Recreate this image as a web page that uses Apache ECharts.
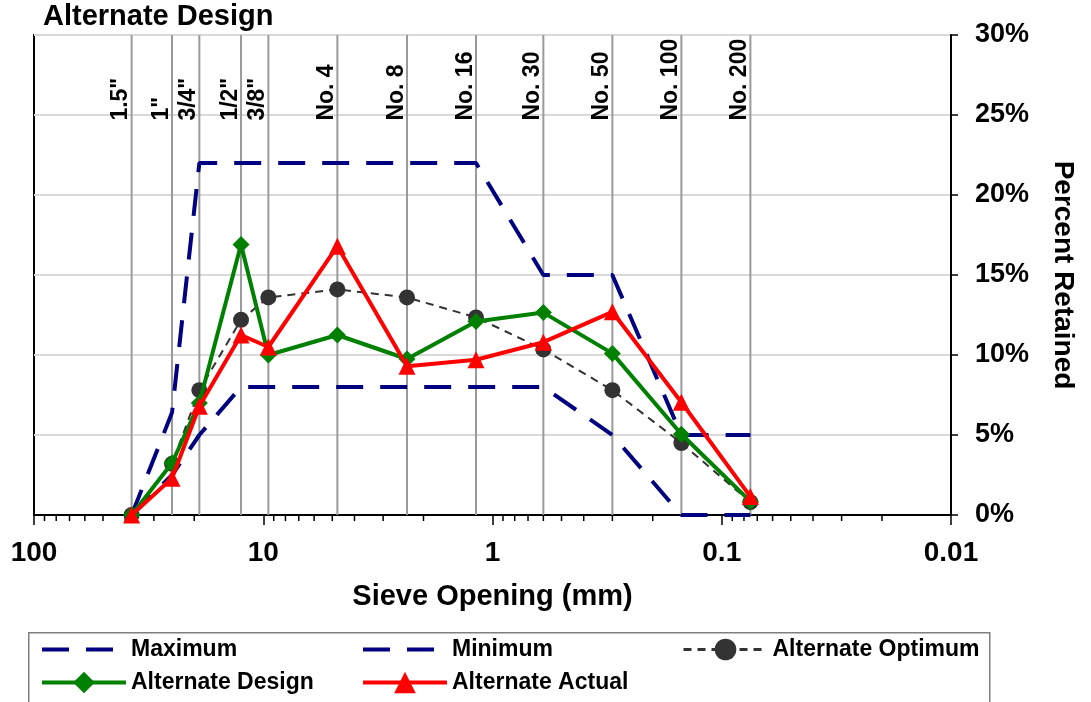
<!DOCTYPE html>
<html><head><meta charset="utf-8">
<script src="https://cdn.jsdelivr.net/npm/echarts@6/dist/echarts.min.js"></script>
<style>html,body{margin:0;padding:0;background:#fff}#c{width:1091px;height:702px}</style>
</head><body><div id="c"></div>
<script>
// Sieve openings (mm) and their names
const sieveSizes = [37.5, 25, 19, 12.5, 9.5, 4.75, 2.36, 1.18, 0.6, 0.3, 0.15, 0.075];
const sieveLabels = ['1.5"', '1"', '3/4"', '1/2"', '3/8"', 'No. 4', 'No. 8', 'No. 16', 'No. 30', 'No. 50', 'No. 100', 'No. 200'];
// Percent retained on each sieve
const maximum    = [0, 6.4, 22, 22, 22, 22, 22, 22, 15, 15, 5, 5];
const minimum    = [0, 2.5, 5, 8, 8, 8, 8, 8, 8, 5, 0, 0];
const altOptimum = [0, 3.2, 7.8, 12.2, 13.6, 14.1, 13.6, 12.35, 10.35, 7.8, 4.5, 0.8];
const altDesign  = [0, 3.25, 7.0, 16.9, 10.0, 11.25, 9.75, 12.1, 12.65, 10.1, 5.05, 0.85];
const altActual  = [0, 2.3, 6.8, 11.25, 10.5, 16.8, 9.3, 9.7, 10.8, 12.7, 7.05, 1.15];
// Axis ticks
const xMajorTicks = [100, 10, 1, 0.1, 0.01];
const xMinorTicks = [90, 80, 70, 60, 50, 40, 30, 20, 9, 8, 7, 6, 5, 4, 3, 2,
                     0.9, 0.8, 0.7, 0.6, 0.5, 0.4, 0.3, 0.2, 0.09, 0.08, 0.07, 0.06, 0.05, 0.04, 0.03, 0.02];
const yTicks = [0, 5, 10, 15, 20, 25, 30];

const FONT = '"Liberation Sans", Arial, Helvetica, sans-serif';
const pair = arr => sieveSizes.map((s, i) => [s, arr[i]]);

const chart = echarts.init(document.getElementById('c'), null, {renderer: 'canvas'});
const legendBase = {
  orient: 'horizontal', padding: 0, itemWidth: 84, itemHeight: 27, itemGap: 0,
  textStyle: {fontFamily: FONT, fontWeight: 'bold', fontSize: 23, color: '#000'},
  selectedMode: false
};
chart.setOption({
  animation: false,
  backgroundColor: '#fff',
  title: {
    text: 'Alternate Design', left: 43, top: 2, padding: 0,
    textStyle: {fontFamily: FONT, fontWeight: 'bold', fontSize: 29, color: '#000'}
  },
  grid: {left: 34, right: 140, top: 35, bottom: 187, show: true, borderColor: '#000', borderWidth: 2, backgroundColor: '#fff'},
  legend: [
    Object.assign({}, legendBase, {data: ['Maximum'], left: 40, top: 638,
      itemStyle: {opacity: 0}, lineStyle: {width: 4}}),
    Object.assign({}, legendBase, {data: ['Minimum'], left: 361, top: 638,
      itemStyle: {opacity: 0}, lineStyle: {width: 4}}),
    Object.assign({}, legendBase, {data: ['Alternate Optimum'], left: 682, top: 638, lineStyle: {width: 3}}),
    Object.assign({}, legendBase, {data: ['Alternate Design'], left: 40, top: 671, lineStyle: {width: 4}}),
    Object.assign({}, legendBase, {data: ['Alternate Actual'], left: 361, top: 671, lineStyle: {width: 4}})
  ],
  graphic: [{
    type: 'rect', left: 28, top: 632, silent: true, z: -1,
    shape: {width: 961, height: 90},
    style: {fill: '#fff', stroke: '#7f7f7f', lineWidth: 1.5}
  }],
  xAxis: {
    type: 'log', logBase: 10, min: 0.01, max: 100, inverse: true, splitNumber: 4,
    name: 'Sieve Opening (mm)', nameLocation: 'middle', nameGap: 67,
    nameTextStyle: {fontFamily: FONT, fontWeight: 'bold', fontSize: 29, color: '#000'},
    axisLine: {show: true, lineStyle: {color: '#000', width: 2}},
    axisTick: {show: true, inside: false, length: 10, lineStyle: {color: '#000', width: 1.5}},
    minorTick: {show: false},
    splitLine: {show: false},
    axisLabel: {
      margin: 24, fontFamily: FONT, fontWeight: 'bold', fontSize: 28, color: '#000',
      formatter: v => {
        const m = xMajorTicks.find(t => Math.abs(Math.log10(t) - Math.log10(v)) < 1e-6);
        return m !== undefined ? String(m) : '';
      }
    }
  },
  yAxis: {
    type: 'value', position: 'right', min: 0, max: 30, interval: 5,
    name: 'Percent Retained', nameLocation: 'middle', nameRotate: -90, nameGap: 98,
    nameTextStyle: {fontFamily: FONT, fontWeight: 'bold', fontSize: 28, color: '#000'},
    axisLine: {show: true, lineStyle: {color: '#000', width: 2}},
    axisTick: {show: true, inside: false, length: 7, lineStyle: {color: '#000', width: 1.5}},
    splitLine: {show: true, lineStyle: {color: '#d9d9d9', width: 2}},
    axisLabel: {margin: 24, fontFamily: FONT, fontWeight: 'bold', fontSize: 27, color: '#000',
      formatter: v => yTicks.indexOf(v) >= 0 ? v + '%' : ''}
  },
  series: [
    {
      type: 'custom', name: 'sieves', silent: true, clip: false, z: 1,
      data: sieveSizes.map((s, i) => [s, i]),
      renderItem: (params, api) => {
        const v = api.value(0);
        const pb = api.coord([v, 0]);
        const pt = api.coord([v, 30]);
        const pl = api.coord([v, 24.65]);
        return {
          type: 'group', children: [
            {type: 'line', shape: {x1: pb[0], y1: pt[1], x2: pb[0], y2: pb[1]},
             style: {stroke: '#9a9a9a', lineWidth: 2}},
            {type: 'text', x: pb[0] + 1, y: pl[1], rotation: Math.PI / 2,
             style: {text: sieveLabels[api.value(1)], font: 'bold 23px ' + FONT, fill: '#000',
                     align: 'left', verticalAlign: 'bottom'}}
          ]
        };
      }
    },
    {
      type: 'custom', name: 'minorTicks', silent: true, clip: false, z: 3,
      data: xMinorTicks.map(v => [v, 0]),
      renderItem: (params, api) => {
        const p = api.coord([api.value(0), 0]);
        return {type: 'line', shape: {x1: p[0], y1: p[1], x2: p[0], y2: p[1] + 6},
                style: {stroke: '#000', lineWidth: 1.5}};
      }
    },
    {
      name: 'Maximum', type: 'line', data: pair(maximum), symbol: 'none', clip: false, z: 4,
      lineStyle: {color: '#000080', width: 4, type: [27, 17]}, itemStyle: {color: '#000080'}
    },
    {
      name: 'Minimum', type: 'line', data: pair(minimum), symbol: 'none', clip: false, z: 4,
      lineStyle: {color: '#000080', width: 4, type: [27, 17]}, itemStyle: {color: '#000080'}
    },
    {
      name: 'Alternate Optimum', type: 'line', data: pair(altOptimum), symbol: 'circle', symbolSize: 16, clip: false, z: 5,
      lineStyle: {color: '#333333', width: 2, type: [8, 6]}, itemStyle: {color: '#333333'}
    },
    {
      name: 'Alternate Design', type: 'line', data: pair(altDesign), symbol: 'diamond', symbolSize: 17, clip: false, z: 6,
      lineStyle: {color: '#008000', width: 4}, itemStyle: {color: '#008000'}
    },
    {
      name: 'Alternate Actual', type: 'line', data: pair(altActual), symbol: 'triangle', symbolSize: 17, clip: false, z: 7,
      lineStyle: {color: '#ff0000', width: 4}, itemStyle: {color: '#ff0000'}
    }
  ]
});
</script>
</body></html>
